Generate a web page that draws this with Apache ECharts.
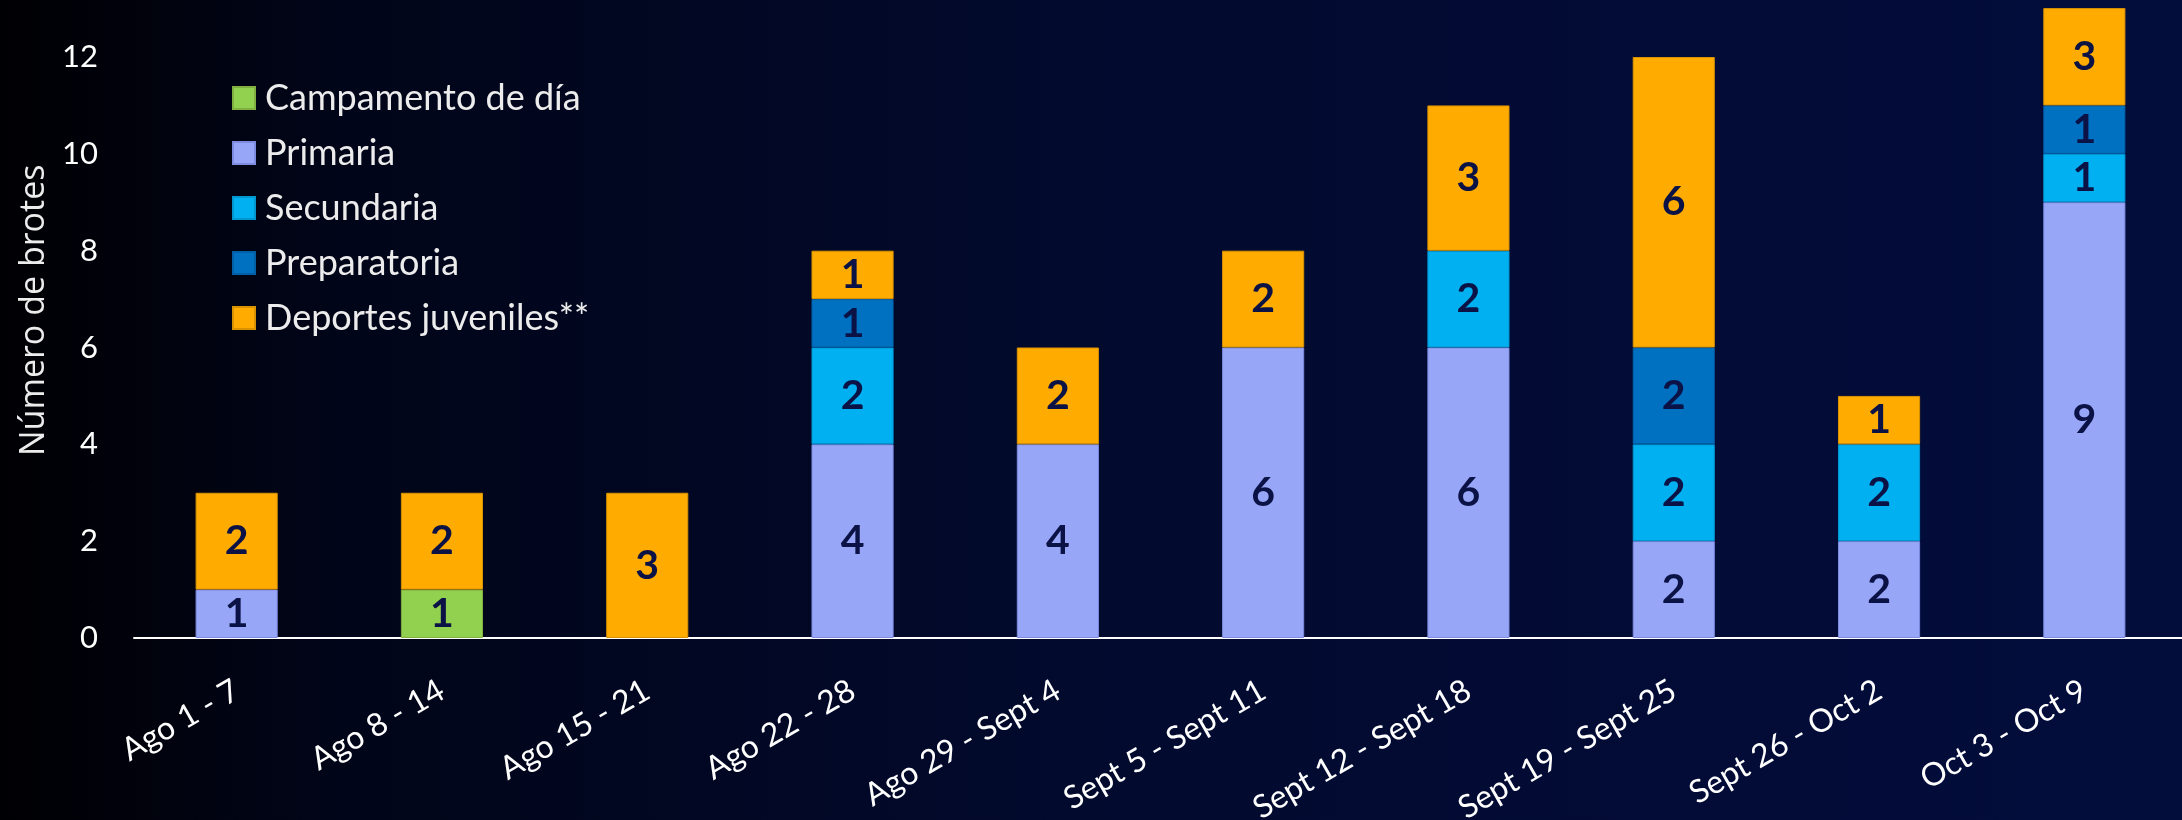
<!DOCTYPE html>
<html>
<head>
<meta charset="utf-8">
<script src="https://cdn.jsdelivr.net/npm/echarts@6/dist/echarts.min.js"></script>
<style>
html,body{margin:0;padding:0;background:#000;}
#chart{width:2182px;height:820px;}
</style>
</head>
<body>
<div id="chart"></div>
<script>
const categories = ['Ago 1 - 7','Ago 8 - 14','Ago 15 - 21','Ago 22 - 28','Ago 29 - Sept 4','Sept 5 - Sept 11','Sept 12 - Sept 18','Sept 19 - Sept 25','Sept 26 - Oct 2','Oct 3 - Oct 9'];
const seriesNames = ['Campamento de día','Primaria','Secundaria','Preparatoria','Deportes juveniles**'];
const campamento = [0,1,0,0,0,0,0,0,0,0];
const primaria = [1,0,0,4,4,6,6,2,2,9];
const secundaria = [0,0,0,2,0,0,2,2,2,1];
const preparatoria = [0,0,0,1,0,0,0,2,0,1];
const deportes = [2,2,3,1,2,2,3,6,1,3];
const yTicks = [0,2,4,6,8,10,12];

const colors = ['#92d050','#98a6f8','#00b0f0','#0070c0','#ffab00'];
const borders = ['#7fb040','#7d8ce0','#0096d0','#005fa6','#d99200'];
const values = [campamento, primaria, secundaria, preparatoria, deportes];

const chart = echarts.init(document.getElementById('chart'), null, {renderer:'canvas'});
const series = seriesNames.map((name, i) => ({
  name: name,
  type: 'bar',
  stack: 'total',
  barWidth: '40%',
  data: values[i].map(v => v === 0 ? null : v),
  itemStyle: {color: colors[i], borderColor: borders[i], borderWidth: 1},
  label: {
    show: true,
    position: 'inside',
    color: '#0b1245',
    fontFamily: 'Lato',
    fontWeight: 'bold',
    fontSize: 41
  }
}));

chart.setOption({
  backgroundColor: {
    type: 'linear', x: 0, y: 0, x2: 1, y2: 0,
    colorStops: [
      {offset: 0, color: '#000003'},
      {offset: 0.15, color: '#010518'},
      {offset: 0.5, color: '#020a2e'},
      {offset: 1, color: '#030d3c'}
    ]
  },
  animation: false,
  legend: {
    orient: 'vertical',
    left: 232,
    top: 80,
    padding: 0,
    itemWidth: 22,
    itemHeight: 22,
    itemGap: 19,
    icon: 'rect',
    data: seriesNames,
    textStyle: {color: '#ececec', fontFamily: 'Lato', fontSize: 36, padding: [0,0,0,5]}
  },
  grid: {left: 134, top: 8.6, width: 2053, height: 629.4, containLabel: false, outerBoundsMode: 'none'},
  xAxis: {
    type: 'category',
    data: categories,
    axisLine: {lineStyle: {color: '#ffffff', width: 2}},
    axisTick: {show: false},
    axisLabel: {color: '#ffffff', fontFamily: 'Lato', fontSize: 32, rotate: 30, margin: 50, interval: 0}
  },
  yAxis: {
    type: 'value',
    min: 0,
    max: 13,
    interval: 2,
    name: 'Número de brotes',
    nameLocation: 'middle',
    nameGap: 80,
    nameTextStyle: {color: '#ececec', fontFamily: 'Open Sans', fontSize: 34, padding: [0,0,0,26]},
    axisLine: {show: false},
    axisTick: {show: false},
    splitLine: {show: false},
    axisLabel: {color: '#ffffff', fontFamily: 'Lato', fontSize: 31, margin: 36, showMaxLabel: false,
      formatter: v => yTicks.indexOf(v) >= 0 ? String(v) : ''}
  },
  series: series
});
</script>
</body>
</html>
